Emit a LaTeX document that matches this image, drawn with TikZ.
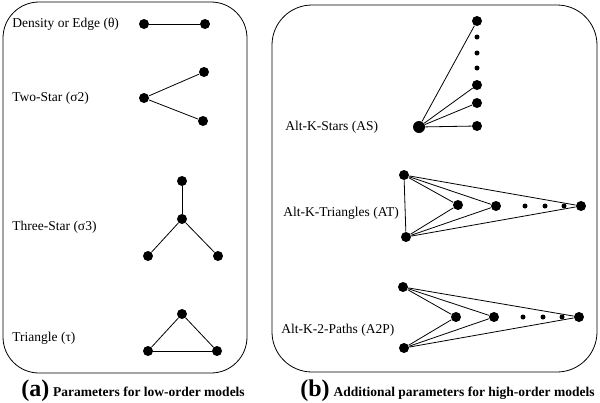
\documentclass[tikz,border=0pt]{standalone}
\usepackage{fontspec}
\setmainfont{Liberation Serif}
\usepackage{tikz}
\usetikzlibrary{positioning}

\begin{document}
\begin{tikzpicture}[x=1pt, y=-1pt, line width=0.8pt,
        vert/.style={circle, inner sep=0pt, minimum size=10pt, fill},
        hub/.style={circle, inner sep=0pt, minimum size=12pt, fill},
        dot/.style={circle, inner sep=0pt, minimum size=5pt, fill},
        lbl/.style={anchor=west, inner sep=0pt, font=\fontsize{13.5}{16}\selectfont},
        panel/.style={draw, rounded corners=36pt},
        capletter/.style={anchor=base west, inner sep=0pt, font=\fontsize{24}{27}\bfseries},
        captext/.style={anchor=base west, inner sep=0pt, font=\fontsize{13.5}{16}\bfseries}]
    \useasboundingbox (0,0) rectangle (600,402);

    % panels
    \draw[panel] (3,2) rectangle (247,373);
    \draw[panel, rounded corners=40pt] (272,5) rectangle (597,372);

    % (a) low-order
    \node[lbl] (ledge) at (12,24) {Density or Edge (θ)};
    \node[vert] (e1) at (144,24) {};
    \node[vert] (e2) at (205,24) {};
    \draw (e1) -- (e2);

    \node[lbl] (ltwo) at (12,98) {Two-Star (σ2)};
    \node[vert] (t0) at (144,98) {};
    \node[vert] (t1) at (204,72) {};
    \node[vert] (t2) at (203,121) {};
    \draw (t0) edge (t1)
          (t0) edge (t2);

    \node[lbl] (lthree) at (12,227) {Three-Star (σ3)};
    \node[vert] (h0) at (182,219) {};
    \node[vert] (h1) at (182,181) {};
    \node[vert] (h2) at (148,256) {};
    \node[vert] (h3) at (218,256) {};
    \draw (h0) edge (h1)
          (h0) edge (h2)
          (h0) edge (h3);

    \node[lbl] (ltri) at (12,338) {Triangle (τ)};
    \node[vert] (r1) at (182,314) {};
    \node[vert] (r2) at (148,351) {};
    \node[vert] (r3) at (217,351) {};
    \draw (r1) edge (r2)
          (r2) edge (r3)
          (r3) edge (r1);

    % (b) high-order
    \node[lbl] (lstars) at (285,127) {Alt-K-Stars (AS)};
    \node[hub] (k0) at (419,127) {};
    \node[vert] (k1) at (477,21) {};
    \node[vert] (k2) at (477,85) {};
    \node[vert] (k3) at (477,103) {};
    \node[vert] (k4) at (477,126) {};
    \foreach \y in {37,53,68}
        \node[dot] at (477,\y) {};
    \draw (k0) edge (k1)
          (k0) edge (k2)
          (k0) edge (k3)
          (k0) edge (k4);

    \node[lbl] (ltris) at (283,213) {Alt-K-Triangles (AT)};
    \node[vert] (a1) at (404,175) {};
    \node[vert] (a2) at (406,237) {};
    \node[vert] (a3) at (458,205) {};
    \node[vert] (a4) at (496,206) {};
    \node[vert] (a5) at (581,206) {};
    \foreach \x in {525,545,564}
        \node[dot] at (\x,206) {};
    \draw (a1) edge (a2)
          (a1) edge (a3)
          (a1) edge (a4)
          (a1) edge (a5)
          (a2) edge (a3)
          (a2) edge (a4)
          (a2) edge (a5);

    \node[lbl] (lpaths) at (281,330) {Alt-K-2-Paths (A2P)};
    \node[vert] (p1) at (403,287) {};
    \node[vert] (p2) at (404,348) {};
    \node[vert] (p3) at (456,317) {};
    \node[vert] (p4) at (494,317) {};
    \node[vert] (p5) at (579,317) {};
    \foreach \x in {523,543,562}
        \node[dot] at (\x,317) {};
    \draw (p1) edge (p3)
          (p1) edge (p4)
          (p1) edge (p5)
          (p2) edge (p3)
          (p2) edge (p4)
          (p2) edge (p5);

    % captions
    \node[capletter] (capa) at (21,396) {(a)};
    \node[captext] (capatext) at ([xshift=3pt]capa.base east) {Parameters for low-order models};
    \node[capletter] (capb) at (300,396) {(b)};
    \node[captext] (capbtext) at ([xshift=3pt]capb.base east) {Additional parameters for high-order models};
\end{tikzpicture}
\end{document}
